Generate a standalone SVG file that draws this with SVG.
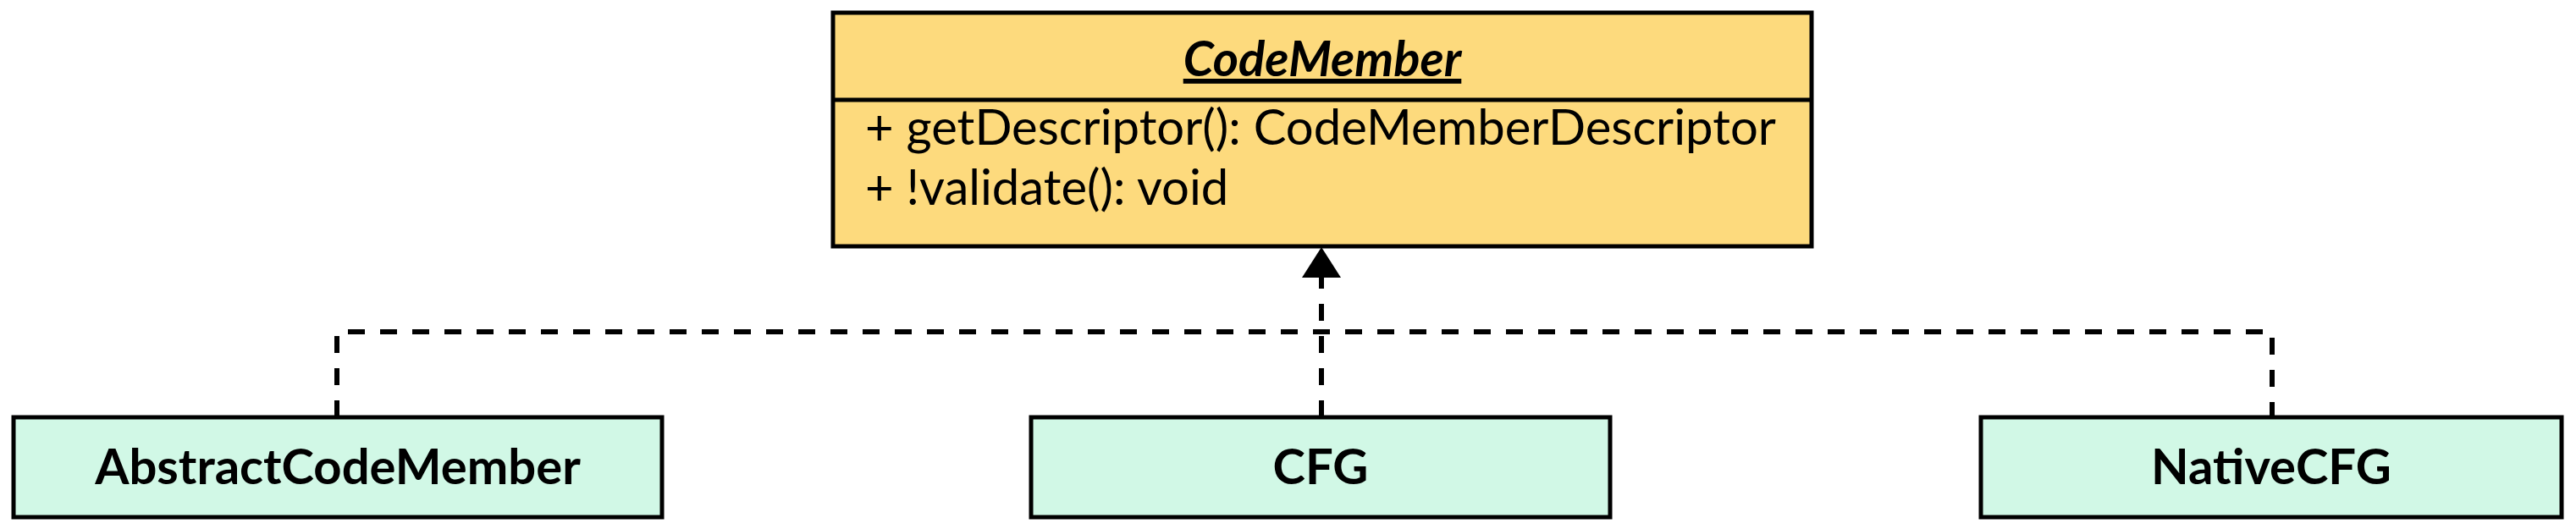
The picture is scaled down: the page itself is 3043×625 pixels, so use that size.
<svg xmlns="http://www.w3.org/2000/svg" width="3043" height="625" viewBox="0 0 3043 625">
<style>
.box{stroke:#000;stroke-width:5}
.t{font-family:Lato,"Liberation Sans",sans-serif;font-size:58px;fill:#000}
.b{font-weight:bold;text-anchor:middle}
.c{fill:none;stroke:#000;stroke-width:6;stroke-dasharray:20 18}
</style>
<rect width="3043" height="625" fill="#fff"/>
<g id="CodeMember">
<rect class="box" x="984" y="15" width="1156" height="276" fill="#fdda7d"/>
<line x1="984" y1="118" x2="2140" y2="118" stroke="#000" stroke-width="5"/>
<text class="t b" x="1562" y="90" font-size="61" font-style="italic" text-decoration="underline">CodeMember</text>
<text class="t" x="1022" y="171">+ getDescriptor(): CodeMemberDescriptor</text>
<text class="t" x="1022" y="242">+ !validate(): void</text>
</g>
<g id="AbstractCodeMember">
<rect class="box" x="16" y="493" width="766" height="118" fill="#d1f8e6"/>
<text class="t b" x="399" y="572">AbstractCodeMember</text>
</g>
<g id="CFG">
<rect class="box" x="1218" y="493" width="684" height="118" fill="#d1f8e6"/>
<text class="t b" x="1560" y="572">CFG</text>
</g>
<g id="NativeCFG">
<rect class="box" x="2340" y="493" width="686" height="118" fill="#d1f8e6"/>
<text class="t b" x="2683" y="572">NativeCFG</text>
</g>
<g id="connectors">
<path class="c" d="M398 493 V392 H2684 V493"/>
<path class="c" d="M1561 493 V326"/>
<polygon points="1561,292 1538,328 1584,328" fill="#000"/>
</g>
</svg>
